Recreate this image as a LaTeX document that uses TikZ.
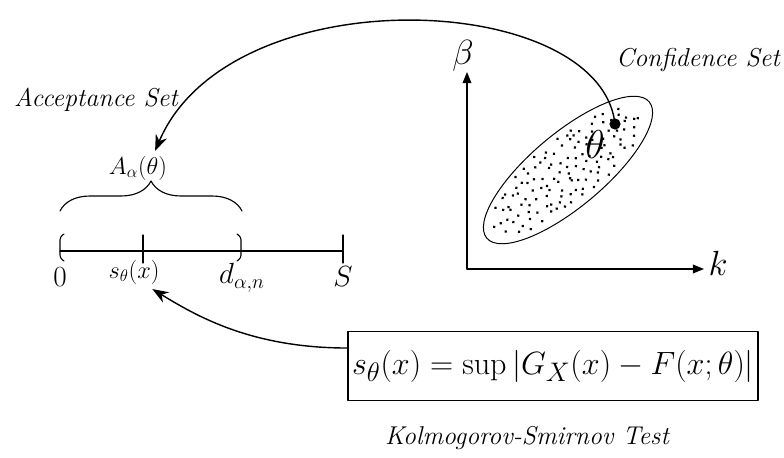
\documentclass[tikz,border=0pt]{standalone}
\usetikzlibrary{arrows.meta,decorations.pathreplacing,calc}

\tikzset{
  setlbl/.style={font=\fontsize{18.4}{22}\selectfont\itshape},
  numlbl/.style={font=\huge},
  conn/.style={line width=1pt,-{Stealth[length=4mm,width=3mm]}},
  axis/.style={line width=0.8pt,-{Triangle[length=2.8mm,width=2.2mm]}},
}

\begin{document}
\begin{tikzpicture}[x=0.25mm,y=-0.25mm,line cap=round,line join=round]
  \useasboundingbox (0,0) rectangle (784,458);

  % number line with its ticks and brackets
  \coordinate (O) at (60,251);
  \coordinate (S) at (343,251);
  \draw[line width=0.8pt] (O)--(S);
  \draw[line width=0.8pt] (143,235)--(143,263) (343,235)--(343,263);
  \draw[line width=0.8pt,rounded corners=2pt] (64,234)--(60,237)--(60,258)--(64,261);
  \draw[line width=0.8pt,rounded corners=2pt] (237,234)--(241,237)--(241,258)--(237,261);

  \node[numlbl] (zero) at (60,277) {$0$};
  \node[font=\LARGE] (sx) at (134,272) {$s_\theta(x)$};
  \node[numlbl] (dan) at (242,278) {$d_{\alpha,n}$};
  \node[numlbl] (send) at (343,277) {$S$};

  \draw[line width=0.8pt,decorate,decoration={brace,amplitude=7.5mm}] (60,211) -- (242,211);
  \node[font=\LARGE] (Alab) at (138,168) {$A_\alpha(\theta)$};
  \node[setlbl] (acc) at (96,100) {Acceptance Set};

  % parameter plane
  \coordinate (orig) at (467,269);
  \draw[axis] (orig) -- (467,72);
  \draw[axis] (orig) -- (704,269);
  \node[font=\Huge] (beta) at (463,56) {$\beta$};
  \node[font=\Huge] (kax) at (718,263) {$k$};

  \begin{scope}[shift={(568,170)},rotate=40]
    \draw[line width=0.7pt] (0,0) ellipse [x radius=2.65cm, y radius=0.92cm];
    \pgfmathsetseed{4}
    \foreach \u in {-0.92,-0.835,...,0.93}{
      \foreach \v in {-0.84,-0.6,...,0.85}{
        \pgfmathsetmacro{\pu}{\u+0.035*rand}
        \pgfmathsetmacro{\pv}{\v+0.1*rand}
        \pgfmathtruncatemacro{\inside}{(\pu*\pu+\pv*\pv<0.84)?1:0}
        \ifnum\inside=1
          \fill ({\pu*2.6cm},{\pv*0.88cm}) circle (1.1pt);
        \fi
      }
    }
  \end{scope}

  \coordinate (th) at (615,124);
  \fill (th) circle (1.4mm);
  \node[font=\Huge,scale=1.15] (thlab) at (595,145) {$\theta$};
  \node[setlbl] (conf) at (698,60) {Confidence Set};

  % test statistic
  \node[draw,line width=0.8pt,minimum width=11.14cm,minimum height=1.875cm,inner sep=1pt,
        font=\Huge,scale=0.92] (ks) at (553,366)
       {$s_\theta(x)=\sup\Big|G_X(x)-F(x;\theta)\Big|$};
  \node[setlbl,font=\fontsize{18.3}{22}\selectfont\itshape] (kstext) at (527,438) {Kolmogorov-Smirnov Test};

  \draw[conn] (th) .. controls (600,-10) and (230,-25) .. (Alab.45);
  \draw[conn] (ks.175) .. controls (250,348) and (195,315) .. ([xshift=-3mm]sx.south east);
\end{tikzpicture}
\end{document}
